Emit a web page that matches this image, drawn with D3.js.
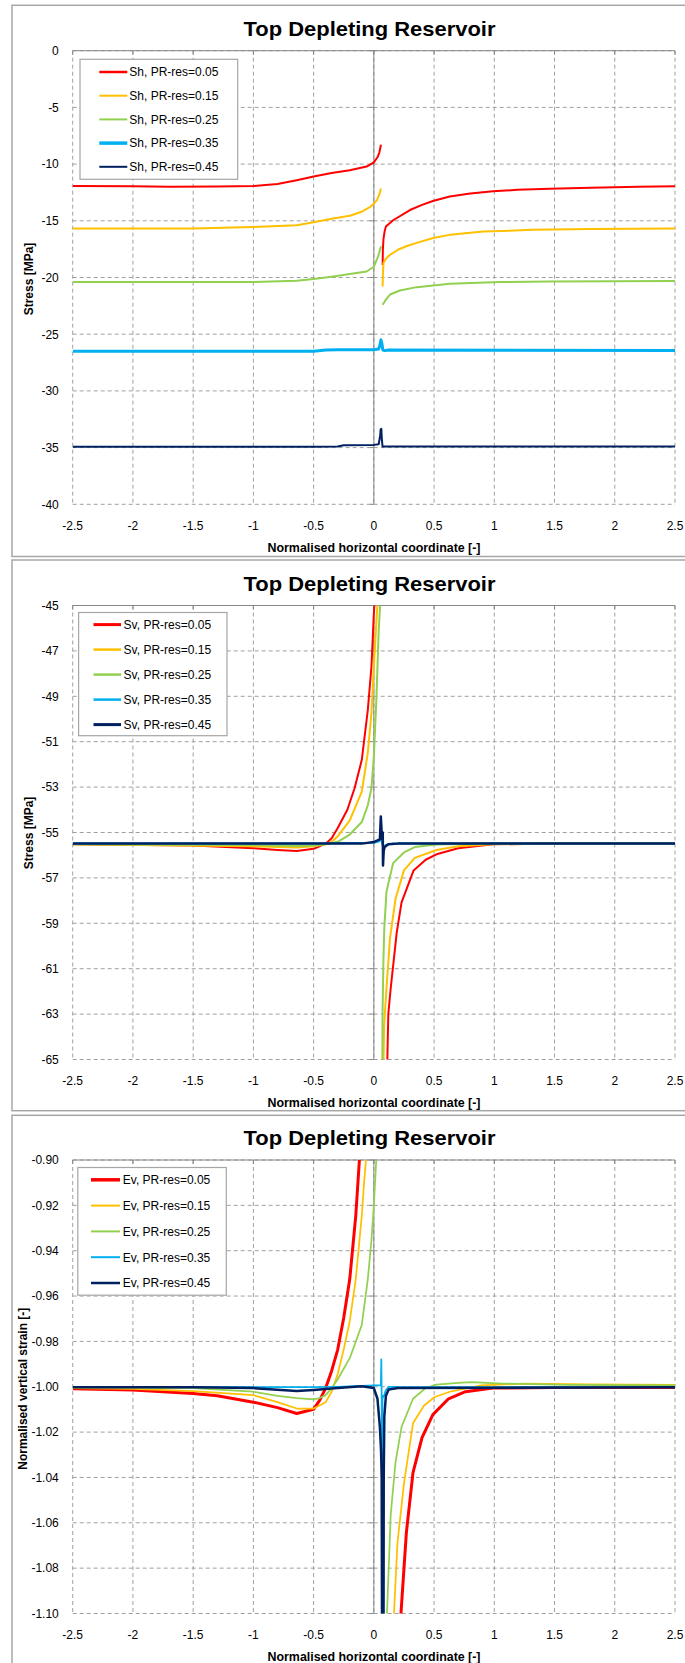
<!DOCTYPE html>
<html><head><meta charset="utf-8">
<script src="https://cdn.jsdelivr.net/npm/d3@7"></script>
<style>
html,body{margin:0;padding:0;background:#fff;}
svg{display:block;font-family:"Liberation Sans",Arial,sans-serif;}
</style></head>
<body><svg id="c" width="685" height="1663"></svg>
<script>
// ---------------- DATA ----------------
const title = "Top Depleting Reservoir";
const xTitle = "Normalised horizontal coordinate [-]";
const xTicks = [-2.5,-2,-1.5,-1,-0.5,0,0.5,1,1.5,2,2.5];
const xTickLabels = ["-2.5","-2","-1.5","-1","-0.5","0","0.5","1","1.5","2","2.5"];
const prLabels = ["PR-res=0.05","PR-res=0.15","PR-res=0.25","PR-res=0.35","PR-res=0.45"];
const colors = ["#ff0000","#ffc000","#92d050","#00b0f0","#002060"];

// Panel 1: Sh
const shTicks = [0,-5,-10,-15,-20,-25,-30,-35,-40];
const shTickLabels = ["0","-5","-10","-15","-20","-25","-30","-35","-40"];
const sh05 = [[-2.5,-11.93],[-2.0,-11.95],[-1.7,-12.0],[-1.3,-11.97],[-1.0,-11.93],[-0.8,-11.75],[-0.64,-11.42],[-0.5,-11.1],[-0.35,-10.78],[-0.2,-10.54],[-0.06,-10.22],[0,-9.85],[0.03,-9.4],[0.045,-9.0],[0.059,-8.3],
  null,
  [0.073,-18.9],[0.075,-17.5],[0.08,-16.6],[0.09,-15.9],[0.1,-15.5],[0.16,-14.95],[0.3,-14.05],[0.4,-13.6],[0.49,-13.25],[0.63,-12.86],[0.8,-12.6],[0.99,-12.4],[1.19,-12.27],[1.46,-12.18],[1.8,-12.08],[2.2,-12.0],[2.5,-11.95]];
const sh15 = [[-2.5,-15.67],[-1.5,-15.67],[-1.0,-15.55],[-0.64,-15.4],[-0.5,-15.12],[-0.35,-14.82],[-0.2,-14.55],[-0.1,-14.2],[-0.034,-13.8],[0,-13.5],[0.027,-13.15],[0.045,-12.7],[0.059,-12.15],
  null,
  [0.073,-20.8],[0.076,-19.5],[0.08,-18.73],[0.1,-18.35],[0.134,-18.0],[0.2,-17.55],[0.28,-17.2],[0.356,-16.95],[0.5,-16.5],[0.63,-16.24],[0.91,-15.95],[1.32,-15.8],[1.8,-15.72],[2.5,-15.67]];
const sh25 = [[-2.5,-20.39],[-1.0,-20.39],[-0.64,-20.28],[-0.5,-20.14],[-0.35,-19.93],[-0.2,-19.7],[-0.06,-19.47],[0,-19.05],[0.03,-18.3],[0.045,-17.8],[0.059,-17.25],
  null,
  [0.073,-22.4],[0.085,-22.2],[0.1,-21.95],[0.134,-21.5],[0.216,-21.15],[0.356,-20.85],[0.63,-20.56],[1.05,-20.4],[1.46,-20.35],[2.0,-20.33],[2.5,-20.3]];
const sh35 = [[-2.5,-26.5],[-1.0,-26.5],[-0.5,-26.5],[-0.4,-26.4],[-0.3,-26.37],[0,-26.37],[0.04,-26.3],[0.052,-25.9],[0.059,-25.5],[0.066,-25.8],[0.075,-26.4],[0.09,-26.45],[0.12,-26.4],[2.5,-26.43]];
const sh45 = [[-2.5,-34.93],[-0.5,-34.93],[-0.3,-34.9],[-0.25,-34.8],[0,-34.76],[0.04,-34.7],[0.052,-34.0],[0.056,-33.4],[0.062,-33.35],[0.066,-34.2],[0.072,-34.9],[2.5,-34.9]];

// Panel 2: Sv
const svTicks = [-45,-47,-49,-51,-53,-55,-57,-59,-61,-63,-65];
const svTickLabels = ["-45","-47","-49","-51","-53","-55","-57","-59","-61","-63","-65"];
const sv05 = [[-2.5,-55.52],[-1.5,-55.57],[-1.0,-55.69],[-0.8,-55.77],[-0.64,-55.82],[-0.5,-55.72],[-0.4,-55.49],[-0.35,-55.25],[-0.3,-54.8],[-0.22,-54.0],[-0.16,-53.05],[-0.1,-51.8],[-0.05,-49.6],[-0.02,-47.7],[0,-45.35],[0.01,-44.5],
  null,
  [0.108,-66],[0.12,-63.0],[0.14,-61.86],[0.19,-59.4],[0.23,-58.08],[0.33,-56.67],[0.43,-56.2],[0.52,-55.96],[0.7,-55.69],[0.99,-55.52],[1.5,-55.49],[2.5,-55.49]];
const sv15 = [[-2.5,-55.52],[-1.0,-55.61],[-0.64,-55.66],[-0.5,-55.61],[-0.4,-55.52],[-0.35,-55.41],[-0.3,-55.17],[-0.2,-54.47],[-0.1,-53.2],[-0.05,-51.48],[-0.02,-49.75],[0,-47.7],[0.02,-45.82],[0.035,-44.5],
  null,
  [0.078,-66],[0.085,-63.5],[0.105,-61.86],[0.134,-59.65],[0.18,-57.92],[0.25,-56.67],[0.34,-56.12],[0.52,-55.77],[0.7,-55.61],[0.99,-55.52],[1.5,-55.49],[2.5,-55.49]];
const sv25 = [[-2.5,-55.52],[-1.0,-55.55],[-0.64,-55.6],[-0.5,-55.57],[-0.4,-55.52],[-0.3,-55.41],[-0.2,-55.09],[-0.1,-54.54],[-0.05,-53.8],[-0.02,-53.05],[0,-51.63],[0.02,-49.28],[0.04,-46.13],[0.05,-45.19],[0.055,-44.5],
  null,
  [0.07,-66],[0.072,-63],[0.08,-60.5],[0.087,-59.18],[0.105,-57.6],[0.16,-56.35],[0.25,-55.88],[0.34,-55.64],[0.52,-55.53],[0.9,-55.49],[2.5,-55.49]];
const sv35 = [[-2.5,-55.48],[-0.5,-55.48],[0,-55.45],[0.04,-55.4],[0.06,-55.3],[0.07,-55.5],[0.08,-55.65],[0.1,-55.55],[0.15,-55.49],[2.5,-55.48]];
const sv45 = [[-2.5,-55.49],[-0.1,-55.49],[0,-55.42],[0.03,-55.35],[0.05,-55.3],[0.058,-54.3],[0.064,-54.9],[0.07,-55.3],[0.074,-55.0],[0.076,-56.45],[0.082,-55.8],[0.09,-55.64],[0.12,-55.52],[0.2,-55.49],[2.5,-55.49]];

// Panel 3: Ev
const evTicks = [-0.90,-0.92,-0.94,-0.96,-0.98,-1.00,-1.02,-1.04,-1.06,-1.08,-1.10];
const evTickLabels = ["-0.90","-0.92","-0.94","-0.96","-0.98","-1.00","-1.02","-1.04","-1.06","-1.08","-1.10"];
const ev05 = [[-2.5,-1.0009],[-2.0,-1.0014],[-1.5,-1.003],[-1.3,-1.004],[-1.0,-1.0068],[-0.8,-1.0092],[-0.64,-1.0118],[-0.5,-1.0099],[-0.45,-1.006],[-0.4,-1.0006],[-0.35,-0.9929],[-0.3,-0.9836],[-0.25,-0.9696],[-0.2,-0.9525],[-0.15,-0.9245],[-0.12,-0.90],[-0.11,-0.89],
  null,
  [0.215,-1.13],[0.225,-1.10],[0.27,-1.0643],[0.325,-1.0379],[0.4,-1.0224],[0.49,-1.0123],[0.62,-1.0053],[0.76,-1.0022],[0.99,-1.0006],[1.5,-1.0003],[2.5,-1.0003]];
const ev15 = [[-2.5,-1.0006],[-2.0,-1.0009],[-1.5,-1.0019],[-1.0,-1.0037],[-0.8,-1.0068],[-0.64,-1.0096],[-0.5,-1.0096],[-0.4,-1.0068],[-0.35,-1.0022],[-0.3,-0.9944],[-0.25,-0.9835],[-0.2,-0.9711],[-0.15,-0.9525],[-0.1,-0.9245],[-0.08,-0.909],[-0.065,-0.90],[-0.06,-0.895],
  null,
  [0.16,-1.115],[0.167,-1.10],[0.196,-1.069],[0.25,-1.0426],[0.325,-1.0161],[0.415,-1.0084],[0.505,-1.0045],[0.63,-1.0022],[0.89,-0.9994],[1.25,-0.9986],[1.79,-0.999],[2.5,-0.9992]];
const ev25 = [[-2.5,-1.0003],[-1.5,-1.0006],[-1.0,-1.0022],[-0.8,-1.004],[-0.64,-1.005],[-0.5,-1.0056],[-0.45,-1.005],[-0.4,-1.0037],[-0.35,-1.0006],[-0.3,-0.9967],[-0.2,-0.9874],[-0.1,-0.9727],[-0.05,-0.9525],[-0.02,-0.9354],[0,-0.9199],[0.02,-0.90],[0.025,-0.895],
  null,
  [0.105,-1.115],[0.109,-1.10],[0.14,-1.0565],[0.18,-1.0332],[0.23,-1.0177],[0.325,-1.0053],[0.43,-1.0006],[0.52,-0.9991],[0.7,-0.9983],[0.81,-0.998],[1.07,-0.9986],[1.61,-0.9992],[2.5,-0.9994]];
const ev35 = [[-2.5,-1.0002],[-1.0,-1.0002],[-0.5,-1.0002],[-0.3,-1.0],[-0.1,-0.9996],[0,-0.9994],[0.05,-0.9994],[0.058,-0.9994],[0.062,-0.9879],[0.064,-0.999],[0.068,-1.0387],[0.072,-1.004],[0.08,-1.0045],[0.1,-1.0015],[0.123,-1.0],[0.2,-1.0001],[2.5,-1.0002]];
const ev45 = [[-2.5,-1.0002],[-1.5,-1.0002],[-1.0,-1.0006],[-0.64,-1.0019],[-0.5,-1.0014],[-0.3,-1.0006],[-0.1,-0.9998],[0,-1.0006],[0.03,-1.0053],[0.05,-1.0177],[0.06,-1.0286],[0.065,-1.04],[0.072,-1.2],[0.078,-1.2],[0.082,-1.04],[0.087,-1.013],[0.1,-1.004],[0.123,-1.0012],[0.2,-1.0006],[2.5,-1.0002]];

// ---------------- LAYOUT ----------------
const panels = [
  {frame:[5.3,556.5], plot:[50.7,504.3], titleY:35.7, yDomain:[-40,0], ticks:shTicks, tickLabels:shTickLabels,
   yTitle:"Stress [MPa]", yTitleX:29, prefix:"Sh, ", series:[sh05,sh15,sh25,sh35,sh45], widths:[2,2,2,3,2],
   legend:{x:80,y:59.3,w:157.7,h:120,row0:72,dy:23.7,l0:99.3,l1:127.3,tx:129.3}, legW:[2.5,2,2,3.5,2]},
  {frame:[560,1110.7], plot:[605.5,1059.5], titleY:591, yDomain:[-65,-45], ticks:svTicks, tickLabels:svTickLabels,
   yTitle:"Stress [MPa]", yTitleX:28.5, prefix:"Sv, ", series:[sv05,sv15,sv25,sv35,sv45], widths:[2,2,2,2,2.5],
   legend:{x:78.6,y:612.5,w:148.4,h:123.2,row0:624.6,dy:25,l0:93.5,l1:121,tx:123.6}, legW:[3,2.5,2.5,2.5,3]},
  {frame:[1115.3,1680], plot:[1160,1613.5], titleY:1145.3, yDomain:[-1.10,-0.90], ticks:evTicks, tickLabels:evTickLabels,
   yTitle:"Normalised vertical strain [-]", yTitleX:23, prefix:"Ev, ", series:[ev05,ev15,ev25,ev35,ev45], widths:[3,1.75,1.75,1.75,2.5],
   legend:{x:77.8,y:1167.5,w:148.5,h:127.7,row0:1179.8,dy:25.8,l0:91,l1:120,tx:122.8}, legW:[3.5,2,2,2,2.5]}
];
const plotLeft = 72.7, plotRight = 675;
const svg = d3.select("#c");
const grid = "#a0a0a0", axisCol = "#868686";

panels.forEach((p, pi) => {
  const g = svg.append("g");
  // frame
  g.append("rect").attr("x",12).attr("y",p.frame[0]).attr("width",700).attr("height",p.frame[1]-p.frame[0])
    .attr("fill","#fff").attr("stroke","#a6a6a6").attr("stroke-width",1.5);
  const x = d3.scaleLinear().domain([-2.5,2.5]).range([plotLeft,plotRight]);
  const y = d3.scaleLinear().domain(p.yDomain).range([p.plot[1],p.plot[0]]);
  // gridlines
  g.append("g").selectAll("line").data(xTicks).join("line")
    .attr("x1",d=>x(d)).attr("x2",d=>x(d)).attr("y1",p.plot[0]).attr("y2",p.plot[1])
    .attr("stroke",grid).attr("stroke-width",1).attr("stroke-dasharray","4,3");
  g.append("g").selectAll("line").data(p.ticks).join("line")
    .attr("x1",plotLeft).attr("x2",plotRight).attr("y1",d=>y(d)).attr("y2",d=>y(d))
    .attr("stroke",grid).attr("stroke-width",1).attr("stroke-dasharray","4,3");
  // axis lines: horizontal axis at top, vertical axis at x=0
  g.append("line").attr("x1",plotLeft).attr("x2",plotRight).attr("y1",p.plot[0]).attr("y2",p.plot[0])
    .attr("stroke",axisCol).attr("stroke-width",1);
  g.append("g").selectAll("line").data(xTicks).join("line")
    .attr("x1",d=>x(d)).attr("x2",d=>x(d)).attr("y1",p.plot[0]).attr("y2",p.plot[0]+4)
    .attr("stroke",axisCol);
  g.append("line").attr("x1",x(0)).attr("x2",x(0)).attr("y1",p.plot[0]).attr("y2",p.plot[1])
    .attr("stroke",axisCol).attr("stroke-width",1);
  g.append("g").selectAll("line").data(p.ticks).join("line")
    .attr("x1",x(0)-4).attr("x2",x(0)).attr("y1",d=>y(d)).attr("y2",d=>y(d))
    .attr("stroke",axisCol);
  // tick labels
  g.append("g").selectAll("text").data(p.ticks).join("text")
    .attr("x",58.8).attr("y",d=>y(d)).attr("dy","0.36em").attr("text-anchor","end")
    .attr("font-size",12).attr("fill","#000").text((d,i)=>p.tickLabels[i]);
  g.append("g").selectAll("text").data(xTicks).join("text")
    .attr("x",d=>x(d)).attr("y",p.plot[1]+25.5).attr("text-anchor","middle")
    .attr("font-size",12).attr("fill","#000").text((d,i)=>xTickLabels[i]);
  // titles
  g.append("text").attr("x",369.5).attr("y",p.titleY).attr("text-anchor","middle")
    .attr("font-size",21).attr("font-weight","bold").attr("textLength",252).attr("lengthAdjust","spacingAndGlyphs").text(title);
  g.append("text").attr("x",374).attr("y",p.plot[1]+47.5).attr("text-anchor","middle")
    .attr("font-size",12).attr("font-weight","bold").attr("textLength",213).attr("lengthAdjust","spacingAndGlyphs").text(xTitle);
  const yc = pi===0 ? 279 : (pi===1 ? 833 : 1388.7);
  g.append("text").attr("transform",`translate(${p.yTitleX},${yc}) rotate(-90)`).attr("text-anchor","middle")
    .attr("dy","0.35em").attr("font-size",12).attr("font-weight","bold").text(p.yTitle);
  // clip + series
  const cid = "clip"+pi;
  svg.append("defs").append("clipPath").attr("id",cid).append("rect")
    .attr("x",plotLeft).attr("y",p.plot[0]).attr("width",plotRight-plotLeft).attr("height",p.plot[1]-p.plot[0]);
  const line = d3.line().defined(d=>d!==null).x(d=>x(d[0])).y(d=>y(d[1]));
  const sg = g.append("g").attr("clip-path",`url(#${cid})`);
  p.series.forEach((s,i)=>{
    sg.append("path").attr("d",line(s)).attr("fill","none").attr("stroke",colors[i])
      .attr("stroke-width",p.widths[i]).attr("stroke-linejoin","round");
  });
  // legend
  const L = p.legend;
  const lg = g.append("g");
  lg.append("rect").attr("x",L.x).attr("y",L.y).attr("width",L.w).attr("height",L.h)
    .attr("fill","#fff").attr("stroke","#a6a6a6").attr("stroke-width",1.2);
  prLabels.forEach((lab,i)=>{
    const ry = L.row0 + i*L.dy;
    lg.append("line").attr("x1",L.l0).attr("x2",L.l1).attr("y1",ry).attr("y2",ry)
      .attr("stroke",colors[i]).attr("stroke-width",p.legW[i]);
    lg.append("text").attr("x",L.tx).attr("y",ry).attr("dy","0.36em").attr("font-size",12).text(p.prefix+lab);
  });
});
</script></body></html>
